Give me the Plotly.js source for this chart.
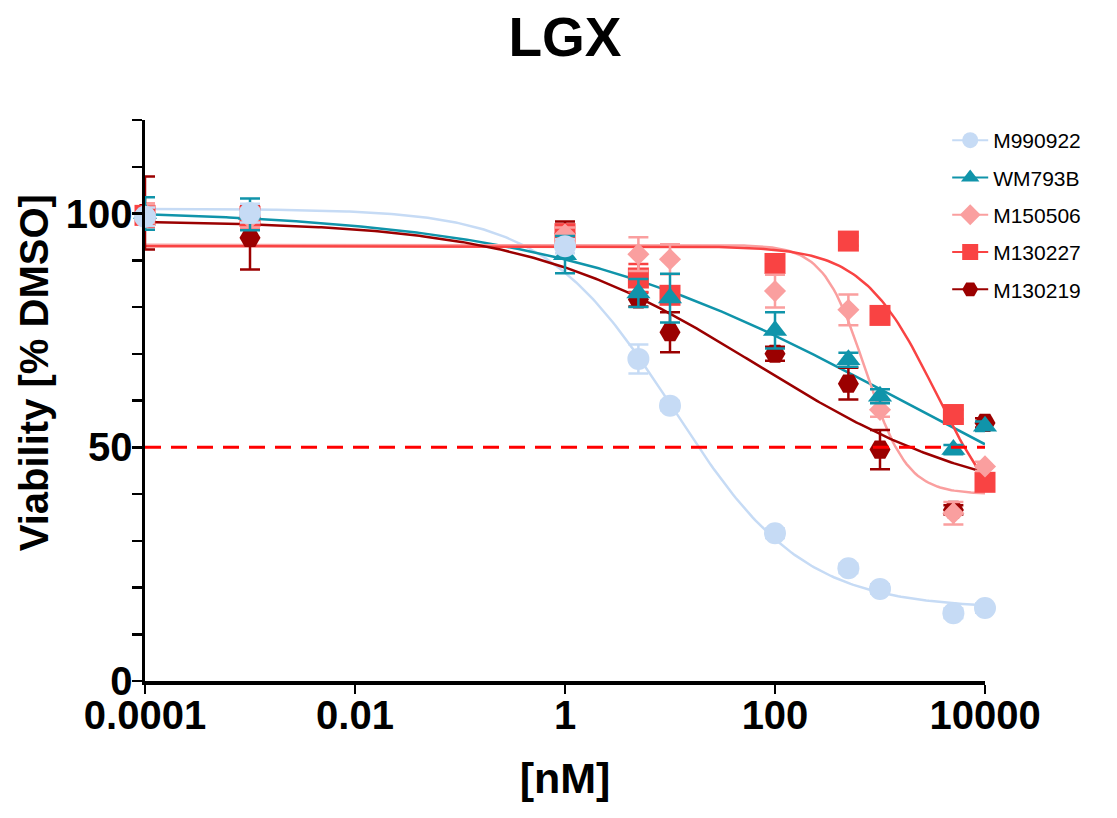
<!DOCTYPE html>
<html><head><meta charset="utf-8">
<script src="https://cdn.plot.ly/plotly-3.0.1.min.js"></script>
<style>html,body{margin:0;padding:0;background:#fff}</style>
</head><body><div id="chart" style="width:1117px;height:818px"></div>
<script>
// Doses (nM)
const doses = [0.0001, 0.001, 1, 5, 10, 100, 500, 1000, 5000, 10000];
const seriesNames = ['M990922', 'WM793B', 'M150506', 'M130227', 'M130219'];

// Mean viability [% DMSO]
const M990922 = [99.3, 100.1, 93.0, 68.9, 58.9, 31.6, 24.1, 19.7, 14.5, 15.6];
const WM793B  = [100.0, 99.8, 91.2, 83.0, 81.9, 75.0, 68.7, 60.9, 49.5, 54.5];
const M150506 = [100.0, 99.0, 95.5, 91.3, 90.2, 83.4, 79.4, 58.0, 35.9, 45.9];
const M130227 = [99.6, 99.4, 95.7, 86.2, 82.5, 89.3, 94.1, 78.2, 57.0, 42.5];
const M130219 = [100.1, 94.8, 95.8, 81.6, 74.6, 70.0, 63.6, 49.5, 36.6, 55.2];

// Error (SD)
const err_M990922 = [2.0, 2.0, 1.5, 3.1, 1.0, 1.0, 1.0, 1.0, 1.0, 1.0];
const err_WM793B  = [3.5, 3.4, 4.0, 3.0, 5.2, 3.9, 1.5, 1.5, 1.0, 1.0];
const err_M150506 = [2.0, 2.0, 1.5, 3.6, 3.2, 3.5, 3.3, 1.5, 2.4, 1.0];
const err_M130227 = [2.5, 2.5, 1.5, 3.0, 1.5, 1.0, 1.0, 1.0, 1.0, 1.0];
const err_M130219 = [7.8, 6.8, 2.5, 1.5, 4.3, 1.5, 3.4, 4.2, 1.0, 1.0];

// 4-parameter logistic fit parameters (order as seriesNames)
const fitTop      = [101.0, 101.0, 93.3, 93.0, 98.5];
const fitBottom   = [15.5, 20.0, 40.0, 30.0, 37.0];
const fitLogIC50  = [1.03, 3.16, 2.86, 3.536, 1.82];
const fitHill     = [0.70, 0.257, 2.2, 1.24, 0.39];

// Reference line
const refLevel = 50;

// Tick labels
const xTickVals = [0.0001, 0.01, 1, 100, 10000];
const xTickText = ['0.0001', '0.01', '1', '100', '10000'];
const yTickVals = [0, 10, 20, 30, 40, 50, 60, 70, 80, 90, 100, 110, 120];
const yTickText = ['0', '', '', '', '', '50', '', '', '', '', '100', '', ''];

const colors  = ['#c6dbf5', '#1094aa', '#fa9f9f', '#f94343', '#9b0000'];
const symbols = ['circle', 'triangle-up', 'diamond', 'square', 'hexagon2'];
const sizes   = [22, 21, 17, 21, 21];

const values = [M990922, WM793B, M150506, M130227, M130219];
const errs   = [err_M990922, err_WM793B, err_M150506, err_M130227, err_M130219];

const FONT = 'Liberation Sans, Arial, Helvetica, sans-serif';

// fitted curves
const curveTraces = [];
const nPts = 300;
const lo = Math.log10(doses[0]), hi = Math.log10(doses[doses.length - 1]);
for (let s = 0; s < seriesNames.length; s++) {
  const xs = [], ys = [];
  for (let i = 0; i <= nPts; i++) {
    const lx = lo + (hi - lo) * i / nPts;
    xs.push(Math.pow(10, lx));
    ys.push(fitBottom[s] + (fitTop[s] - fitBottom[s]) / (1 + Math.pow(10, (lx - fitLogIC50[s]) * fitHill[s])));
  }
  curveTraces.push({
    x: xs, y: ys, type: 'scatter', mode: 'lines',
    line: {color: colors[s], width: 2.5, shape: 'linear'},
    showlegend: false, hoverinfo: 'skip', legendgroup: seriesNames[s]
  });
}

// markers: drawn bottom -> top = M130219, M130227, M150506, WM793B, M990922
const drawOrder = [4, 3, 2, 1, 0];
const markerTraces = drawOrder.map(s => {
  // interleave nulls so legend shows a line through the symbol while no lines join points
  const xs = [], ys = [], es = [];
  doses.forEach((d, i) => { xs.push(d, null); ys.push(values[s][i], null); es.push(errs[s][i], null); });
  return {
    x: xs, y: ys, type: 'scatter', mode: 'lines+markers', connectgaps: false,
    name: seriesNames[s], legendgroup: seriesNames[s], legendrank: s + 1,
    cliponaxis: false,
    line: {color: colors[s], width: 2},
    marker: {color: colors[s], symbol: symbols[s], size: sizes[s], line: {width: 0}},
    error_y: {type: 'data', array: es, visible: true, color: colors[s], thickness: 2.5, width: 10}
  };
});

const refTrace = {
  x: [doses[0], doses[doses.length - 1]], y: [refLevel, refLevel],
  type: 'scatter', mode: 'lines', showlegend: false, hoverinfo: 'skip',
  line: {color: '#ff0000', width: 3, dash: '16px,10px'}
};

const layout = {
  width: 1117, height: 818,
  margin: {l: 145, r: 132, t: 120, b: 137, pad: 0},
  paper_bgcolor: '#ffffff', plot_bgcolor: '#ffffff',
  font: {family: FONT, color: '#000'},
  title: {text: '<b>LGX</b>', font: {family: FONT, size: 55, color: '#000'},
          x: 0.5, xref: 'paper', y: 0.955, yref: 'container', yanchor: 'middle'},
  xaxis: {
    type: 'log', range: [-4, 4], autorange: false,
    tickmode: 'array', tickvals: xTickVals, ticktext: xTickText,
    ticks: 'outside', ticklen: 9, tickwidth: 2.5, tickcolor: '#000',
    ticklabelstandoff: -13,
    showline: true, linewidth: 3.5, linecolor: '#000', mirror: false,
    showgrid: false, zeroline: false,
    tickfont: {family: FONT, size: 40, color: '#000', weight: 'bold'},
    title: {text: '<b>[nM]</b>', font: {family: FONT, size: 43, color: '#000'}, standoff: 28}
  },
  yaxis: {
    range: [0, 120], autorange: false,
    tickmode: 'array', tickvals: yTickVals, ticktext: yTickText,
    ticks: 'outside', ticklen: 10, tickwidth: 2.5, tickcolor: '#000',
    ticklabelstandoff: -9,
    showline: true, linewidth: 3.5, linecolor: '#000',
    showgrid: false, zeroline: false,
    tickfont: {family: FONT, size: 40, color: '#000', weight: 'bold'},
    title: {text: '<b>\u00a0\u00a0\u00a0\u00a0\u00a0Viability [% DMSO]</b>', font: {family: FONT, size: 40, color: '#000'}, standoff: 6}
  },
  legend: {
    x: 0.955, xanchor: 'left', y: 1.0, yanchor: 'top',
    traceorder: 'grouped', tracegroupgap: 7, itemwidth: 36,
    font: {family: FONT, size: 21, color: '#000'},
    bgcolor: 'rgba(0,0,0,0)', borderwidth: 0
  },
  showlegend: true
};

Plotly.newPlot('chart', curveTraces.concat(markerTraces, [refTrace]), layout, {displayModeBar: false, staticPlot: true});
</script>
</body></html>
